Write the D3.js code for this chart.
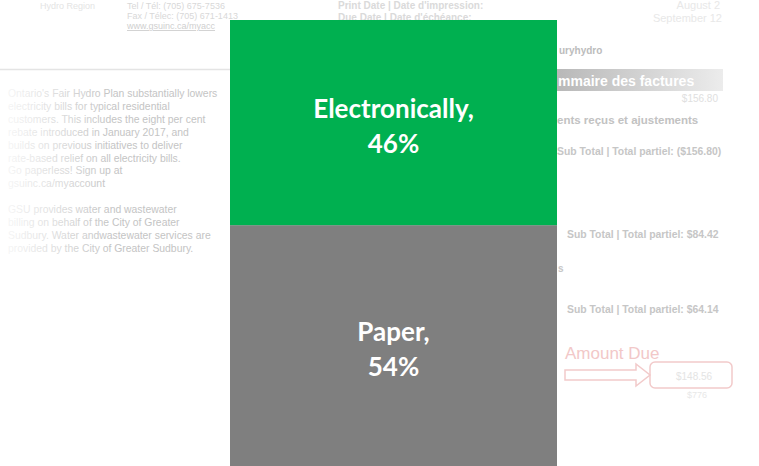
<!DOCTYPE html>
<html>
<head>
<meta charset="utf-8">
<script src="https://cdn.jsdelivr.net/npm/d3@7"></script>
<style>
  body { margin: 0; background: #fff; }
  svg { display: block; }
  .bill { font-family: "Liberation Sans", Arial, sans-serif; fill: #c9c9c9; }
  .seg-label { font-family: Lato, "Open Sans", sans-serif; font-weight: 700; fill: #fff; }
</style>
</head>
<body>
<svg width="759" height="466"></svg>
<script>
// chart data
const categories = ["Paper", "Electronically"];
const shares = [54, 46];
const seg_colors = ["#7f7f7f", "#00b050"];

// faded bill in the background (decoration only)
const bill_left = [
  "Ontario's Fair Hydro Plan substantially lowers",
  "electricity bills for typical residential",
  "customers. This includes the eight per cent",
  "rebate introduced in January 2017, and",
  "builds on previous initiatives to deliver",
  "rate-based relief on all electricity bills.",
  "Go paperless! Sign up at",
  "gsuinc.ca/myaccount",
  "",
  "GSU provides water and wastewater",
  "billing on behalf of the City of Greater",
  "Sudbury. Water andwastewater services are",
  "provided by the City of Greater Sudbury."
];

const w = 759, h = 466;
const bar_left = 230, bar_right = 557, bar_top = 20;
const svg = d3.select("svg");

function draw_background() {
  const bg = svg.append("g").attr("class", "bill");

  const defs = svg.append("defs");
  const fade = defs.append("linearGradient").attr("id", "fadeLeft");
  fade.append("stop").attr("offset", "0%").attr("stop-color", "#fff").attr("stop-opacity", 0.9);
  fade.append("stop").attr("offset", "100%").attr("stop-color", "#fff").attr("stop-opacity", 0);
  const head = defs.append("linearGradient").attr("id", "headGrad");
  head.append("stop").attr("offset", "0%").attr("stop-color", "#b8b8b8");
  head.append("stop").attr("offset", "100%").attr("stop-color", "#ececec");

  // header contact lines
  bg.append("text").attr("x", 40).attr("y", 9).attr("font-size", 9).attr("fill", "#e4e4e4").text("Hydro Region");
  bg.append("text").attr("x", 127).attr("y", 9).attr("font-size", 9).attr("fill", "#d8d8d8").text("Tel / Tél: (705) 675-7536");
  bg.append("text").attr("x", 127).attr("y", 19).attr("font-size", 9).attr("fill", "#d8d8d8").text("Fax / Télec: (705) 671-1413");
  bg.append("text").attr("x", 127).attr("y", 29).attr("font-size", 9).attr("fill", "#cfcfcf")
    .attr("text-decoration", "underline").text("www.gsuinc.ca/myacc");
  bg.append("line").attr("x1", 0).attr("x2", 230).attr("y1", 69.5).attr("y2", 69.5)
    .attr("stroke", "#e4e4e4").attr("stroke-width", 1.5);

  bg.append("text").attr("x", 338).attr("y", 9).attr("font-size", 10).attr("font-weight", 700).attr("fill", "#dadada").text("Print Date | Date d'impression:");
  bg.append("text").attr("x", 338).attr("y", 21).attr("font-size", 10).attr("font-weight", 700).attr("fill", "#dadada").text("Due Date | Date d'échéance:");
  bg.append("text").attr("x", 720).attr("y", 9).attr("font-size", 11).attr("text-anchor", "end").attr("fill", "#e8e8e8").text("August 2");
  bg.append("text").attr("x", 722).attr("y", 22).attr("font-size", 11).attr("text-anchor", "end").attr("fill", "#e8e8e8").text("September 12");

  // left paragraph
  bill_left.forEach((line, i) => {
    bg.append("text")
      .attr("x", 8)
      .attr("y", 97 + i * 12.9)
      .attr("font-size", 10.4)
      .attr("fill", "#c4c4c4")
      .text(line);
  });
  svg.append("rect").attr("x", 0).attr("y", 80).attr("width", 110).attr("height", 180).attr("fill", "url(#fadeLeft)");

  // right side summary
  bg.append("text").attr("x", 559).attr("y", 54).attr("font-size", 10).attr("font-weight", 700).attr("fill", "#bcbcbc").text("uryhydro");
  bg.append("rect").attr("x", 557).attr("y", 69).attr("width", 166).attr("height", 22).attr("fill", "url(#headGrad)");
  bg.append("text").attr("x", 558).attr("y", 86).attr("font-size", 14).attr("font-weight", 700).attr("fill", "#fff").text("mmaire des factures");
  bg.append("text").attr("x", 718).attr("y", 102).attr("font-size", 10).attr("text-anchor", "end").attr("fill", "#e0e0e0").text("$156.80");
  bg.append("text").attr("x", 557).attr("y", 124).attr("font-size", 11.5).attr("font-weight", 700).attr("fill", "#c2c2c2").text("ents reçus et ajustements");
  bg.append("text").attr("x", 557).attr("y", 155).attr("font-size", 10.4).attr("font-weight", 700).attr("fill", "#c6c6c6").text("Sub Total | Total partiel: ($156.80)");
  bg.append("text").attr("x", 567).attr("y", 238).attr("font-size", 10.4).attr("font-weight", 700).attr("fill", "#c6c6c6").text("Sub Total | Total partiel: $84.42");
  bg.append("text").attr("x", 558).attr("y", 272).attr("font-size", 10).attr("font-weight", 700).attr("fill", "#c6c6c6").text("s");
  bg.append("text").attr("x", 567).attr("y", 313).attr("font-size", 10.4).attr("font-weight", 700).attr("fill", "#c6c6c6").text("Sub Total | Total partiel: $64.14");

  bg.append("text").attr("x", 565).attr("y", 359).attr("font-size", 17).attr("fill", "#f2c8c8").text("Amount Due");
  bg.append("path")
    .attr("d", "M565,370 L636,370 L636,364 L650,375 L636,386 L636,380 L565,380 Z")
    .attr("fill", "none").attr("stroke", "#f2caca").attr("stroke-width", 1.5);
  bg.append("rect").attr("x", 650).attr("y", 362).attr("width", 82).attr("height", 26).attr("rx", 5)
    .attr("fill", "none").attr("stroke", "#f2caca").attr("stroke-width", 1.5);
  bg.append("text").attr("x", 676).attr("y", 380).attr("font-size", 10).attr("fill", "#e4e4e4").text("$148.56");
  bg.append("text").attr("x", 687).attr("y", 398).attr("font-size", 9).attr("fill", "#e8e8e8").text("$776");
}

function draw_bar() {
  const row = {};
  categories.forEach((c, i) => { row[c] = shares[i]; });
  const stacked = d3.stack().keys(categories)([row]);

  const y = d3.scaleLinear()
    .domain([0, d3.sum(shares)])
    .range([h, bar_top]);
  const x = d3.scaleBand()
    .domain(["all"])
    .range([bar_left, bar_right])
    .padding(0);

  const g = svg.append("g");

  g.selectAll("rect.seg")
    .data(stacked)
    .join("rect")
    .attr("class", "seg")
    .attr("x", x("all"))
    .attr("width", x.bandwidth())
    .attr("y", (d) => y(d[0][1]))
    .attr("height", (d) => y(d[0][0]) - y(d[0][1]))
    .attr("fill", (d, i) => seg_colors[i]);

  const cx = x("all") + x.bandwidth() / 2;
  const labels = g.selectAll("text.seg-label")
    .data(stacked)
    .join("text")
    .attr("class", "seg-label")
    .attr("text-anchor", "middle")
    .attr("font-size", 26)
    .attr("x", cx)
    .attr("y", (d) => (y(d[0][0]) + y(d[0][1])) / 2);

  labels.append("tspan")
    .attr("x", cx)
    .attr("dy", -5)
    .text((d) => d.key + ",");
  labels.append("tspan")
    .attr("x", cx)
    .attr("dy", 35)
    .text((d, i) => shares[i] + "%");
}

draw_background();
draw_bar();
</script>
</body>
</html>
